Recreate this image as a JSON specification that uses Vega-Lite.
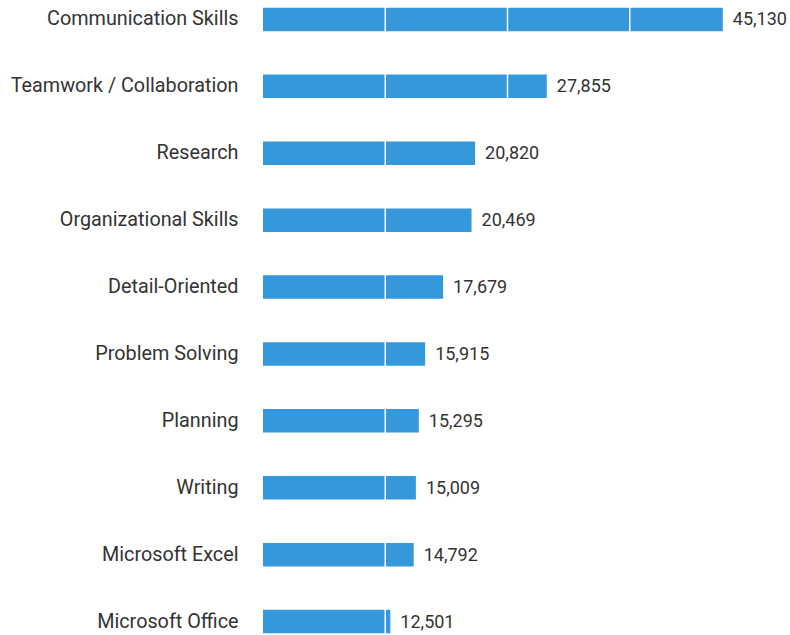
{
  "$schema": "https://vega.github.io/schema/vega-lite/v6.json",
  "autosize": "none",
  "padding": {"left": 263, "top": 5, "right": 38, "bottom": 0},
  "width": 489,
  "height": 631,
  "background": "white",
  "config": {"view": {"stroke": null}, "font": "Roboto"},
  "datasets": {
    "skills": [
      {"skill": "Communication Skills", "count": 45130},
      {"skill": "Teamwork / Collaboration", "count": 27855},
      {"skill": "Research", "count": 20820},
      {"skill": "Organizational Skills", "count": 20469},
      {"skill": "Detail-Oriented", "count": 17679},
      {"skill": "Problem Solving", "count": 15915},
      {"skill": "Planning", "count": 15295},
      {"skill": "Writing", "count": 15009},
      {"skill": "Microsoft Excel", "count": 14792},
      {"skill": "Microsoft Office", "count": 12501}
    ],
    "grid": [{"tick": 12000}, {"tick": 24000}, {"tick": 36000}]
  },
  "layer": [
    {
      "data": {"name": "skills"},
      "mark": {"type": "bar", "color": "#3498db"},
      "encoding": {
        "y": {
          "field": "skill",
          "type": "nominal",
          "sort": null,
          "scale": {"paddingInner": 0.648, "paddingOuter": 0.04},
          "axis": {
            "title": null,
            "domain": false,
            "ticks": false,
            "labelPadding": 25,
            "labelFontSize": 19.8,
            "labelColor": "#333333",
            "labelFont": "Roboto",
            "labelLimit": 300
          }
        },
        "x": {
          "field": "count",
          "type": "quantitative",
          "scale": {"domain": [0, 48000], "nice": false},
          "axis": null
        }
      }
    },
    {
      "data": {"name": "grid"},
      "mark": {"type": "rule", "color": "white", "strokeWidth": 1.5},
      "encoding": {
        "x": {"field": "tick", "type": "quantitative"}
      }
    },
    {
      "data": {"name": "skills"},
      "mark": {"type": "text", "align": "left", "baseline": "middle", "dx": 10, "dy": 1, "fontSize": 18, "color": "#333333", "font": "Roboto"},
      "encoding": {
        "y": {"field": "skill", "type": "nominal", "sort": null},
        "x": {"field": "count", "type": "quantitative"},
        "text": {"field": "count", "type": "quantitative", "format": ",d"}
      }
    }
  ]
}
